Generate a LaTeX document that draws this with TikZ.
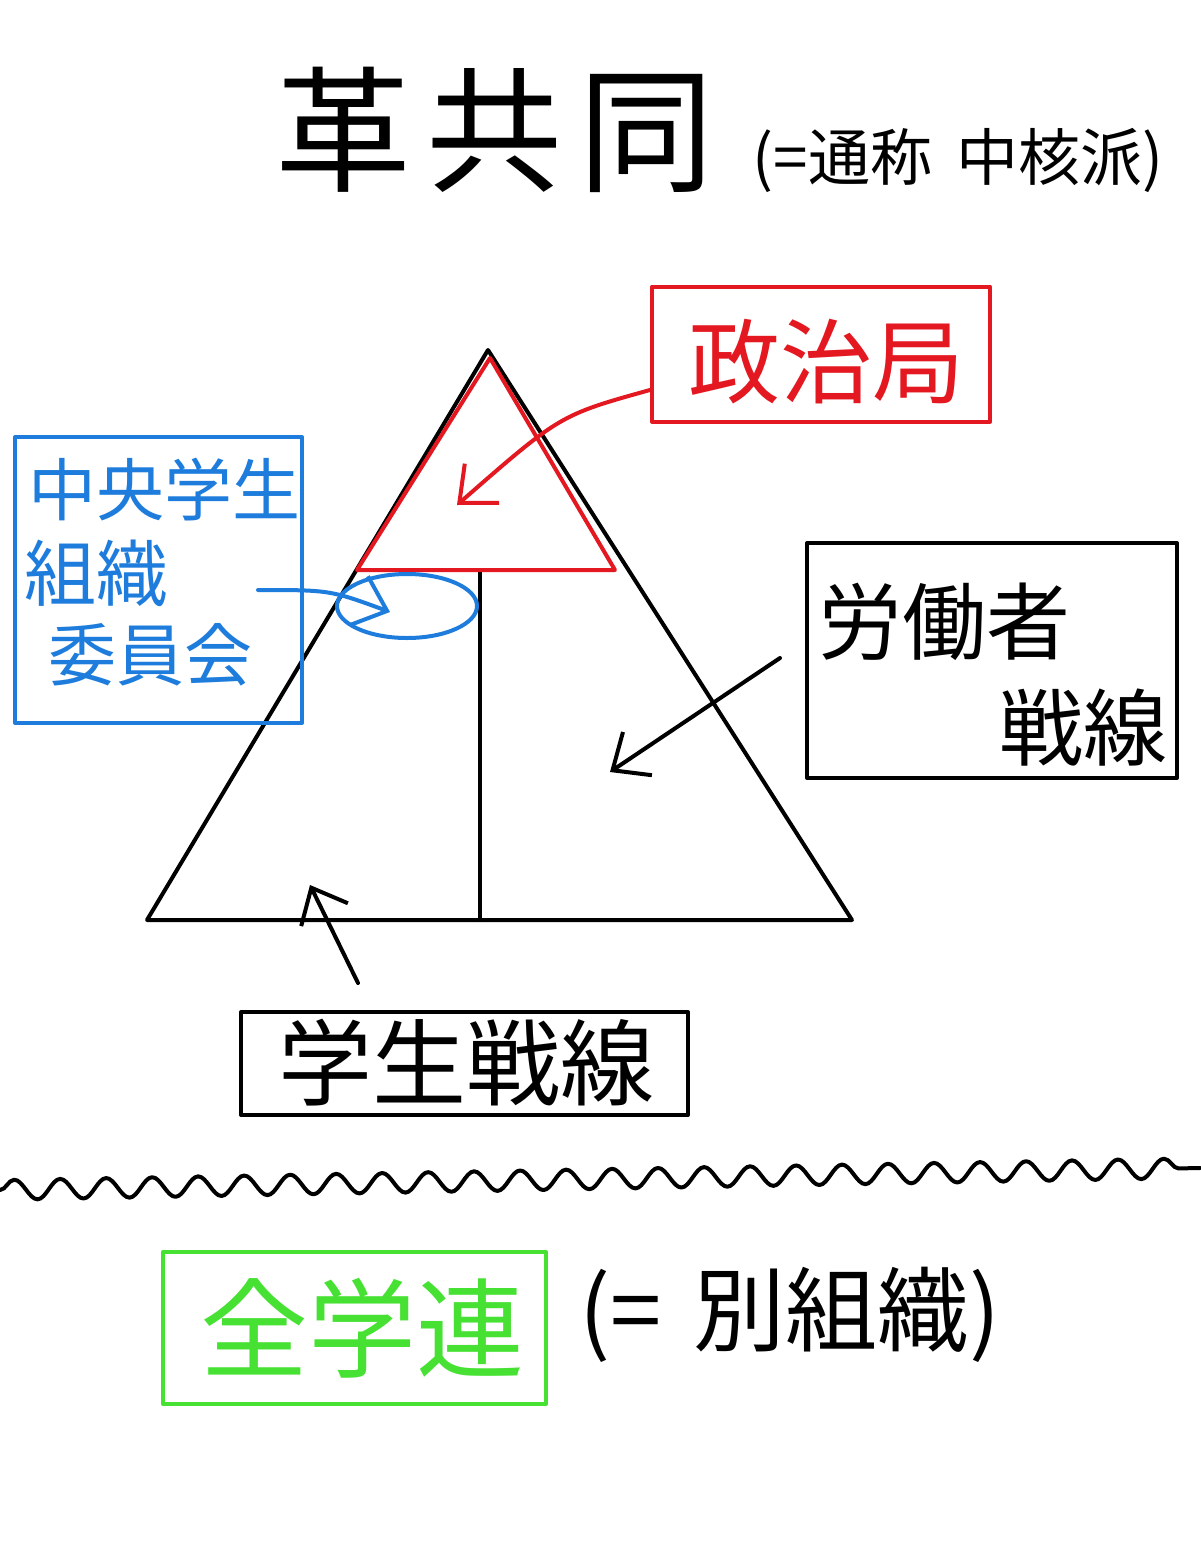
\documentclass[tikz,border=0pt]{standalone}
\usepackage{fontspec}
\setmainfont{Noto Sans CJK JP}
\usetikzlibrary{arrows.meta,decorations.pathmorphing,shapes.geometric}
\definecolor{pred}{RGB}{228,24,32}
\definecolor{pblue}{RGB}{30,125,220}
\definecolor{pgreen}{RGB}{70,225,50}
\tikzset{
  ink/.style={line width=2pt, line cap=round, line join=round},
  framebox/.style={ink, draw, rectangle},
  barb/.style={-{Straight Barb[length=15pt,width=26pt,line width=2pt]}},
  lbl/.style={inner sep=0pt, anchor=center},
}
\begin{document}
\begin{tikzpicture}[x=0.5pt,y=-0.5pt]
\useasboundingbox (0,0) rectangle (1200,1552);
\fill[white] (0,0) rectangle (1200,1552);

% title
\node[lbl] (title) at (495,130) {\fontsize{68pt}{70pt}\selectfont 革\hspace{8pt}共\hspace{8pt}同};
\node[lbl] (titlesub) at (958,160) {\fontsize{31pt}{33pt}\selectfont (=通称\hspace{12pt}中核派)};

% big triangle
\coordinate (apex) at (488,350);
\coordinate (bl) at (147,920);
\coordinate (br) at (852,920);
\draw[ink] (apex) -- (bl) -- (br) -- cycle;
\coordinate (vtop) at (480,572);
\coordinate (vbot) at (480,920);
\draw[ink] (vtop) -- (vbot);

% red triangle
\coordinate (rapex) at (490,358);
\coordinate (rbl) at (357,570);
\coordinate (rbr) at (615,570);
\draw[ink, pred] (rapex) -- (rbl) -- (rbr) -- cycle;

% red box
\node[framebox, pred, minimum width=338*0.5pt, minimum height=135*0.5pt] (redbox) at (821,354) {};
\node[lbl, text=pred] (redtxt) at (826,362) {\fontsize{46pt}{48pt}\selectfont 政治局};
\coordinate (redstart) at (650,390);
\coordinate (redtip) at (457,505);
\draw[ink, pred, barb] (redstart) .. controls (560,415) .. (redtip);

% blue box
\node[framebox, pblue, minimum width=287*0.5pt, minimum height=286*0.5pt] (bluebox) at (158.5,580) {};
\node[lbl, text=pblue, anchor=west] (blue1) at (28,490) {\fontsize{34pt}{36pt}\selectfont 中央学生};
\node[lbl, text=pblue, anchor=west] (blue2) at (24,573) {\fontsize{36pt}{38pt}\selectfont 組織};
\node[lbl, text=pblue, anchor=west] (blue3) at (48,655) {\fontsize{34pt}{36pt}\selectfont 委員会};
\node[ink, draw=pblue, ellipse, minimum width=140*0.5pt, minimum height=64*0.5pt, inner sep=0pt] (blueell) at (407,606) {};
\coordinate (bluestart) at (258,590);
\coordinate (bluetip) at (390,612);
\draw[ink, pblue, barb] (bluestart) .. controls (330,590) .. (bluetip);

% labour front box
\node[framebox, minimum width=370*0.5pt, minimum height=235*0.5pt] (labbox) at (992,660.5) {};
\node[lbl, anchor=west] (lab1) at (818,622) {\fontsize{42pt}{44pt}\selectfont 労働者};
\node[lbl, anchor=east] (lab2) at (1168,728) {\fontsize{42pt}{44pt}\selectfont 戦線};
\coordinate (labstart) at (780,658);
\coordinate (labtip) at (610,772);
\draw[ink, barb] (labstart) -- (labtip);

% student front box
\node[framebox, minimum width=447*0.5pt, minimum height=103*0.5pt] (stubox) at (464.5,1063.5) {};
\node[lbl] (stutxt) at (466,1063) {\fontsize{47pt}{49pt}\selectfont 学生戦線};
\coordinate (stustart) at (358,983);
\coordinate (stutip) at (310,885);
\draw[ink, barb] (stustart) -- (stutip);

% wavy separator
\coordinate (wavel) at (0,1190);
\coordinate (waver) at (1200,1168);
\draw[ink, decorate, decoration={snake, segment length=23pt, amplitude=5pt}] (wavel) -- (waver);

% zengakuren
\node[framebox, pgreen, minimum width=383*0.5pt, minimum height=152*0.5pt] (greenbox) at (354.5,1328) {};
\node[lbl, text=pgreen] (greentxt) at (362,1328) {\fontsize{54pt}{56pt}\selectfont 全学連};
\node[lbl] (sepsub) at (790,1315) {\fontsize{46pt}{48pt}\selectfont (=\hspace{16pt}別組織)};
\end{tikzpicture}
\end{document}
